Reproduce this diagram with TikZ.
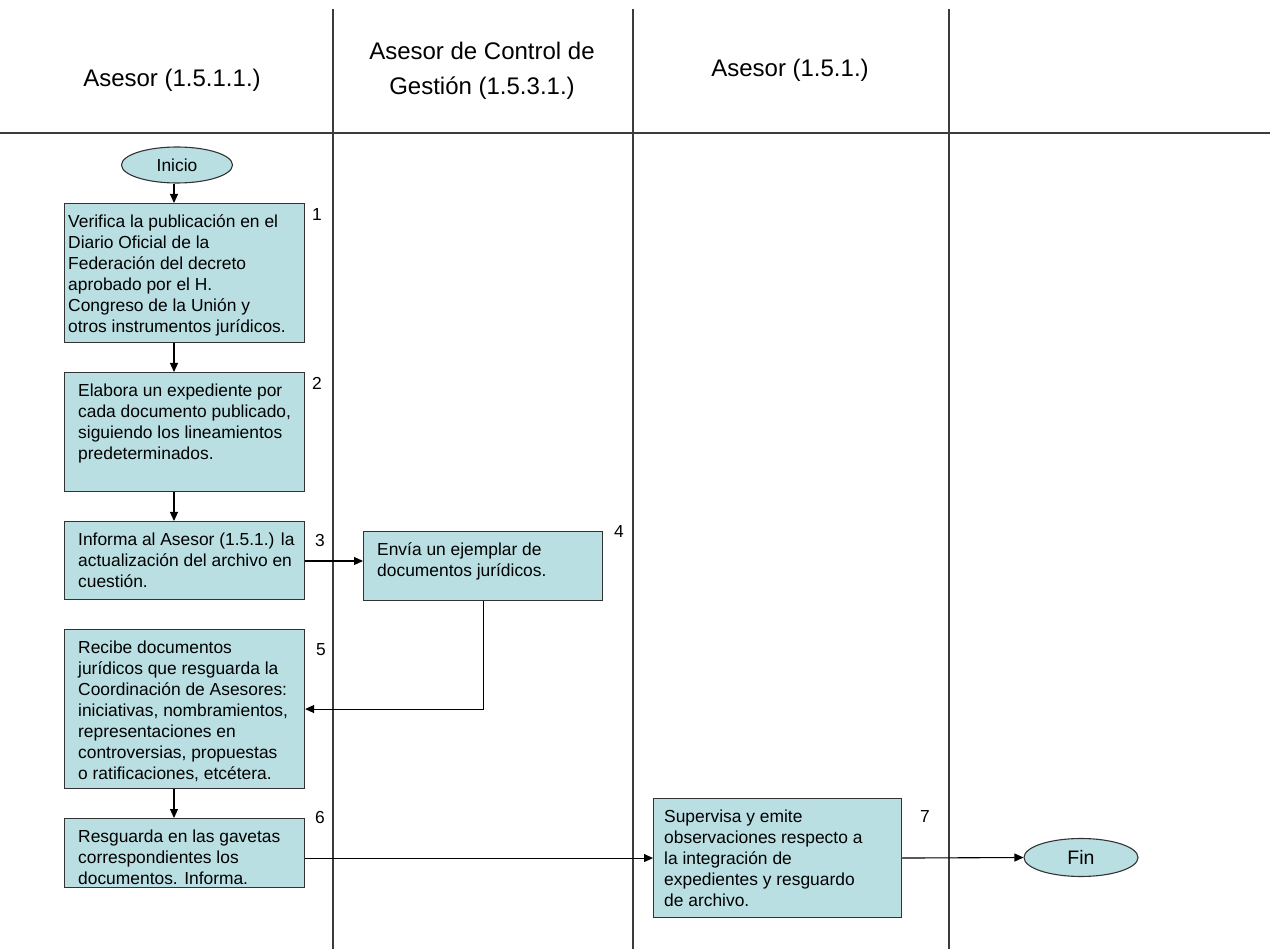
\documentclass[tikz,border=0pt]{standalone}
\usepackage{fontspec}
\setmainfont{Liberation Sans}
\usetikzlibrary{arrows.meta,shapes.geometric,calc}
\definecolor{boxfill}{RGB}{185,223,227}
\definecolor{lane}{RGB}{60,60,60}
\tikzset{
  lanes/.style={draw=lane,line width=1.2pt},
  box/.style={draw=black!80,fill=boxfill,line width=1.1pt,rectangle,inner sep=0pt,anchor=north west},
  boxtext/.style={anchor=north west,inner sep=0pt,align=left,font=\fontsize{17.4}{21}\selectfont},
  num/.style={font=\fontsize{17.4}{21}\selectfont,inner sep=0pt},
  hdr/.style={font=\fontsize{24}{35}\selectfont,align=center,inner sep=0pt},
  term/.style={ellipse,draw=black!80,fill=boxfill,line width=1.1pt,inner sep=0pt},
  arr/.style={draw=black,line width=1.1pt,-{Triangle[length=9pt,width=8pt]}}
}
\newcommand{\bx}[5]{\node[box,minimum width=#3pt,minimum height=#4pt] (#5) at (#1,#2) {};}
\begin{document}
\begin{tikzpicture}[x=1pt,y=-1pt]
\useasboundingbox (0,0) rectangle (1270,949);
% lanes
\draw[lanes] (0,133) -- (1270,133);
\draw[lanes] (333,9) -- (333,949);
\draw[lanes] (633,9) -- (633,949);
\draw[lanes] (949,9) -- (949,949);
% headers
\node[hdr] (h1) at (172,80) {Asesor (1.5.1.1.)};
\node[hdr] (h2) at (482,71) {Asesor de Control de\\Gestión (1.5.3.1.)};
\node[hdr] (h3) at (790,70) {Asesor (1.5.1.)};
% terminals
\node[term,minimum width=111pt,minimum height=36pt,font=\fontsize{17.4}{21}\selectfont] (inicio) at (177,165) {Inicio};
\node[term,minimum width=114pt,minimum height=38pt,font=\fontsize{19.5}{23}\selectfont] (fin) at (1081,857.5) {Fin};
% boxes
\bx{64}{203}{240}{139}{b1}
\bx{64}{372}{240}{119}{b2}
\bx{64}{521}{240}{78}{b3}
\bx{363}{531}{239}{69}{b4}
\bx{64}{629}{240}{159}{b5}
\bx{64}{818}{240}{69}{b6}
\bx{653}{798}{248}{119}{b7}
% texts
\node[boxtext] (t1) at (68,212.3) {\strut Verifica la publicación en el\\Diario Oficial de la\\Federación del decreto\\aprobado por el H.\\Congreso de la Unión y\\otros instrumentos jurídicos.};
\node[boxtext] (t2) at (78,381.3) {\strut Elabora un expediente por\\cada documento publicado,\\siguiendo los lineamientos\\predeterminados.};
\node[boxtext] (t3) at (78,530.3) {\strut Informa al Asesor (1.5.1.) la\\actualización del archivo en\\cuestión.};
\node[boxtext] (t4) at (377,540.3) {\strut Envía un ejemplar de\\documentos jurídicos.};
\node[boxtext] (t5) at (78,638.3) {\strut Recibe documentos\\jurídicos que resguarda la\\Coordinación de Asesores:\\iniciativas, nombramientos,\\representaciones en\\controversias, propuestas\\o ratificaciones, etcétera.};
\node[boxtext] (t6) at (78,827.3) {\strut Resguarda en las gavetas\\correspondientes los\\documentos. Informa.};
\node[boxtext] (t7) at (664,807.3) {\strut Supervisa y emite\\observaciones respecto a\\la integración de\\expedientes y resguardo\\de archivo.};
% numbers
\node[num] (n1) at (317,215) {1};
\node[num] (n2) at (317,383) {2};
\node[num] (n3) at (320,541) {3};
\node[num] (n4) at (619,532) {4};
\node[num] (n5) at (321,650) {5};
\node[num] (n6) at (320,818) {6};
\node[num] (n7) at (925,817) {7};
% connectors
\coordinate (ax) at (174,0);
\draw[arr] (inicio.south -| ax) -- (b1.north -| ax);
\draw[arr] (b1.south -| ax) -- (b2.north -| ax);
\draw[arr] (b2.south -| ax) -- (b3.north -| ax);
\draw[arr] (b3.east |- 0,561) -- (b4.west |- 0,561);
\draw[arr] (b4.south) |- (b5.east);
\draw[arr] (b5.south -| ax) -- (b6.north -| ax);
\draw[arr] (b6.east |- b7.west) -- (b7.west);
\draw[arr] (b7.east) -- (fin.west);
\end{tikzpicture}
\end{document}
